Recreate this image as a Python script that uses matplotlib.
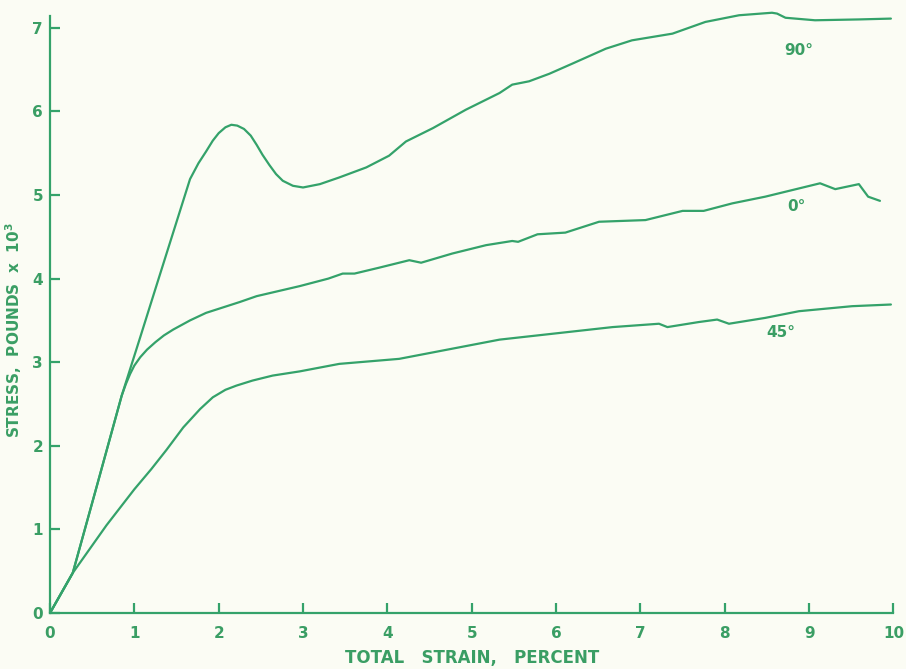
#!/usr/bin/env python3
"""Stress vs total strain for three fibre orientations (0, 45, 90 deg)."""
import matplotlib

matplotlib.use("Agg")
import matplotlib.pyplot as plt

GREEN = "#34a26a"
TEXT = "#3a9e64"
PAPER = "#fbfcf4"

# 90 deg curve
strain_90 = [0, 0.27, 0.55, 0.85, 1.07, 1.26, 1.46, 1.66, 1.76, 1.85, 1.93, 2.0, 2.08,
             2.15, 2.22, 2.3, 2.38, 2.45, 2.52, 2.6, 2.68, 2.76, 2.88, 3.0, 3.2, 3.43,
             3.75, 4.02, 4.22, 4.54, 4.93, 5.33, 5.48, 5.68, 5.92, 6.19, 6.59, 6.9,
             7.38, 7.77, 8.17, 8.56, 8.62, 8.72, 9.07, 9.59, 9.97]
stress_90 = [0, 0.48, 1.5, 2.6, 3.3, 3.91, 4.55, 5.19, 5.38, 5.52, 5.65, 5.74, 5.81,
             5.84, 5.83, 5.79, 5.71, 5.6, 5.48, 5.36, 5.25, 5.17, 5.11, 5.09, 5.13, 5.21,
             5.33, 5.47, 5.64, 5.80, 6.02, 6.22, 6.32, 6.36, 6.45, 6.57, 6.75, 6.85,
             6.93, 7.07, 7.15, 7.18, 7.17, 7.12, 7.09, 7.10, 7.11]

# 0 deg curve
strain_0 = [0, 0.27, 0.55, 0.85, 0.9, 0.95, 1.0, 1.07, 1.15, 1.25, 1.35, 1.46, 1.66,
            1.85, 2.25, 2.45, 2.96, 3.3, 3.47, 3.61, 3.9, 4.26, 4.40, 4.77, 5.17, 5.48,
            5.55, 5.78, 6.11, 6.51, 7.06, 7.50, 7.75, 8.09, 8.48, 9.13, 9.31, 9.59,
            9.70, 9.84]
stress_0 = [0, 0.48, 1.5, 2.6, 2.74, 2.86, 2.96, 3.06, 3.15, 3.24, 3.32, 3.39, 3.5,
            3.59, 3.72, 3.79, 3.91, 4.0, 4.06, 4.06, 4.13, 4.22, 4.19, 4.30, 4.40, 4.45,
            4.44, 4.53, 4.55, 4.68, 4.70, 4.81, 4.81, 4.90, 4.98, 5.14, 5.07, 5.13,
            4.98, 4.93]

# 45 deg curve
strain_45 = [0, 0.27, 0.67, 1.0, 1.2, 1.38, 1.58, 1.78, 1.93, 2.08, 2.21, 2.4, 2.64,
             2.96, 3.43, 4.14, 5.33, 6.67, 7.22, 7.32, 7.69, 7.91, 8.05, 8.48, 8.88,
             9.51, 9.97]
stress_45 = [0, 0.48, 1.05, 1.48, 1.72, 1.95, 2.22, 2.44, 2.58, 2.67, 2.72, 2.78, 2.84,
             2.89, 2.98, 3.04, 3.27, 3.42, 3.46, 3.42, 3.48, 3.51, 3.46, 3.53, 3.61,
             3.67, 3.69]

labels = ["90°", "0°", "45°"]
label_pos = [(8.88, 6.73), (8.85, 4.86), (8.66, 3.35)]

x_ticks = list(range(0, 11))
y_ticks = list(range(0, 8))

fig = plt.figure(figsize=(9.06, 6.69), dpi=100, facecolor=PAPER)
ax = fig.add_axes([0.0552, 0.0837, 0.9328, 0.906])
ax.set_facecolor(PAPER)

for xs, ys in [(strain_90, stress_90), (strain_0, stress_0), (strain_45, stress_45)]:
    ax.plot(xs, ys, color=GREEN, lw=1.6, solid_joinstyle="round", solid_capstyle="round")

for txt, (lx, ly) in zip(labels, label_pos):
    ax.text(lx, ly, txt, color=TEXT, fontsize=11, fontweight="bold", ha="center", va="center")

ax.set_xlim(0, 10.02)
ax.set_ylim(0, 7.25)
ax.spines["top"].set_visible(False)
ax.spines["right"].set_visible(False)
for s in ("left", "bottom"):
    ax.spines[s].set_color(GREEN)
    ax.spines[s].set_linewidth(1.6)
ax.spines["left"].set_bounds(0, 7.14)
ax.spines["bottom"].set_bounds(0, 10)

ax.set_xticks(x_ticks)
ax.set_yticks(y_ticks)
ax.set_xticklabels([str(v) for v in x_ticks])
ax.set_yticklabels([str(v) for v in y_ticks])
ax.tick_params(direction="in", length=7, width=1.6, color=GREEN, labelcolor=TEXT,
               labelsize=11)
ax.tick_params(axis="x", pad=9)
ax.tick_params(axis="y", pad=5)
for lab in ax.get_xticklabels() + ax.get_yticklabels():
    lab.set_fontweight("bold")

ax.set_xlabel("TOTAL   STRAIN,   PERCENT", color=TEXT, fontsize=12, fontweight="bold",
              labelpad=6)
ax.set_ylabel("STRESS,  POUNDS  x  10$^{\\mathbf{3}}$", color=TEXT, fontsize=11,
              fontweight="bold")
ax.yaxis.set_label_coords(-0.031, 0.467)

fig.savefig("out.png", dpi=100, facecolor=PAPER)
